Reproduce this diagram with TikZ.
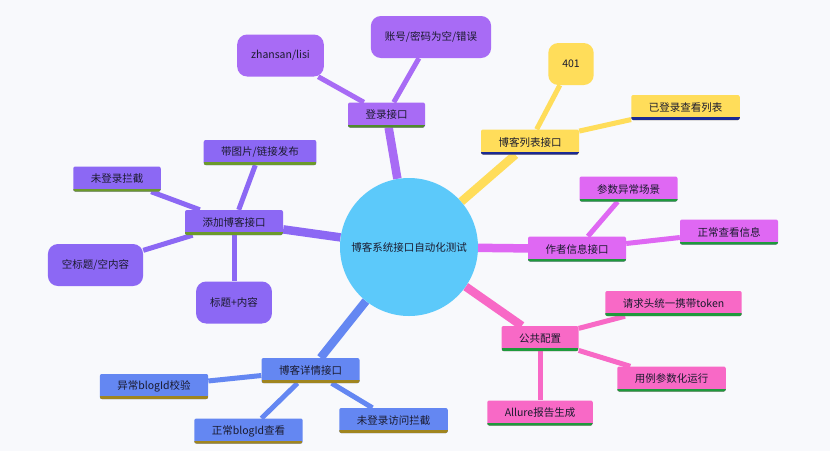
\documentclass[tikz,border=0pt]{standalone}
\usepackage{fontspec}
\setmainfont{Noto Sans CJK SC}
\usepackage{xcolor}
\usetikzlibrary{positioning, backgrounds}
\pgfdeclarelayer{canvas}
\pgfsetlayers{canvas,background,main}

\definecolor{paper}{HTML}{F8F9FC}
\definecolor{ink}{HTML}{1A1A2E}
\definecolor{hubc}{HTML}{5CC9FA}
\definecolor{loginc}{HTML}{A86BF5}
\definecolor{listc}{HTML}{FFDD5A}
\definecolor{authc}{HTML}{DF68F3}
\definecolor{confc}{HTML}{F869C6}
\definecolor{detc}{HTML}{6487F2}
\definecolor{addc}{HTML}{8C68F4}
\definecolor{ulgreen}{HTML}{4F8C2B}
\definecolor{ulnavy}{HTML}{1B2A93}
\definecolor{ulemer}{HTML}{1F9A3C}
\definecolor{ulgold}{HTML}{A0851F}
\definecolor{ulolive}{HTML}{6C9A2B}

\begin{document}
\begin{tikzpicture}[x=1pt, y=1pt, on grid,
    every node/.style={font=\fontsize{10.5}{12}\selectfont, text=ink},
    hub/.style={circle, fill=hubc, minimum size=138pt, inner sep=0pt},
    box/.style 2 args={fill=#1, rounded corners=2pt, minimum height=25pt, inner xsep=17.5pt, inner ysep=0pt,
      path picture={\draw[line width=6pt, #2] (path picture bounding box.south west) -- (path picture bounding box.south east);}},
    bub/.style={fill=#1, rounded corners=10pt, minimum height=42pt, inner xsep=14pt},
    trunk/.style={draw=#1, line width=8.5pt},
    twig/.style={draw=#1, line width=5pt}]
  \useasboundingbox (0,0) rectangle (830,-451);
  \node[hub] (hub) at (409,-247) {博客系统接口自动化测试};

  % 登录
  \node[box={loginc}{ulgreen}, above left=132pt and 22.5pt of hub] (login) {登录接口};
  \node[bub=loginc, above left=59.5pt and 106pt of login] (user) {zhansan/lisi};
  \node[bub=loginc, above right=78pt and 44.5pt of login] (acct) {账号/密码为空/错误};

  % 列表
  \node[box={listc}{ulnavy}, above right=105pt and 121pt of hub] (list) {博客列表接口};
  \node[bub=listc, above right=78pt and 41pt of list] (unauth) {401};
  \node[box={listc}{ulnavy}, above right=34.5pt and 155.5pt of list] (seen) {已登录查看列表};

  % 作者
  \node[box={authc}{ulemer}, below right=2pt and 168pt of hub] (auth) {作者信息接口};
  \node[box={authc}{ulemer}, above right=60pt and 51.5pt of auth] (badarg) {参数异常场景};
  \node[box={authc}{ulemer}, above right=17pt and 152pt of auth] (okinfo) {正常查看信息};

  % 公共
  \node[box={confc}{ulemer}, below right=91.5pt and 131pt of hub] (conf) {公共配置};
  \node[box={confc}{ulemer}, above right=35pt and 133.5pt of conf] (token) {请求头统一携带token};
  \node[box={confc}{ulemer}, below right=40.5pt and 131.5pt of conf] (param) {用例参数化运行};
  \node[box={confc}{ulemer}, below=74.5pt of conf] (allure) {Allure报告生成};

  % 详情
  \node[box={detc}{ulgold}, below left=123.5pt and 98.5pt of hub] (det) {博客详情接口};
  \node[box={detc}{ulgold}, below left=16pt and 156.5pt of det] (badid) {异常blogId校验};
  \node[box={detc}{ulgold}, below left=60.5pt and 62pt of det] (okid) {正常blogId查看};
  \node[box={detc}{ulgold}, below right=50pt and 83pt of det] (guest) {未登录访问拦截};

  % 添加
  \node[box={addc}{ulolive}, above left=24.5pt and 175pt of hub] (add) {添加博客接口};
  \node[box={addc}{ulolive}, above left=43.5pt and 117pt of add] (block) {未登录拦截};
  \node[box={addc}{ulolive}, above right=70pt and 26pt of add] (media) {带图片/链接发布};
  \node[bub=addc, below left=42.5pt and 138.5pt of add] (empty) {空标题/空内容};
  \node[bub=addc, below=80pt of add] (full) {标题+内容};

  \begin{scope}[on background layer]
    \draw[trunk=loginc] (hub) -- (login);
    \draw[trunk=listc] (hub) -- (list);
    \draw[trunk=authc] (hub) -- (auth);
    \draw[trunk=confc] (hub) -- (conf);
    \draw[trunk=detc] (hub) -- (det);
    \draw[trunk=addc] (hub) -- (add);
    \foreach \n in {user,acct} \draw[twig=loginc] (login) -- (\n);
    \foreach \n in {unauth,seen} \draw[twig=listc] (list) -- (\n);
    \foreach \n in {badarg,okinfo} \draw[twig=authc] (auth) -- (\n);
    \foreach \n in {token,param,allure} \draw[twig=confc] (conf) -- (\n);
    \foreach \n in {badid,okid,guest} \draw[twig=detc] (det) -- (\n);
    \foreach \n in {block,media,empty,full} \draw[twig=addc] (add) -- (\n);
  \end{scope}
  \begin{pgfonlayer}{canvas}
    \fill[paper] (0,0) rectangle (830,-451);
  \end{pgfonlayer}
\end{tikzpicture}
\end{document}
